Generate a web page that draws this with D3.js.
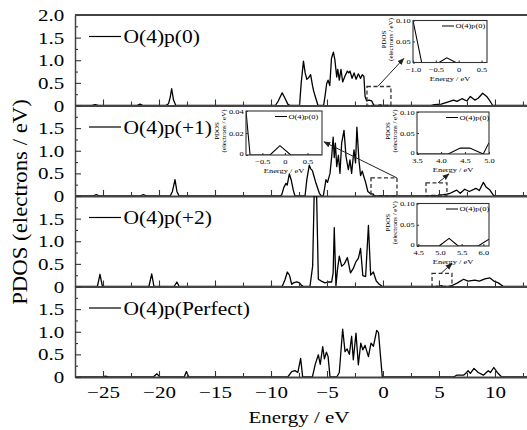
<!DOCTYPE html>
<html>
<head>
<meta charset="utf-8">
<script src="https://cdn.jsdelivr.net/npm/d3@7"></script>
<style>
body { margin: 0; background: #fff; }
svg { display: block; font-family: "Liberation Serif", "Times New Roman", serif; }
</style>
</head>
<body>
<svg id="chart" width="527" height="430"></svg>
<script>
"use strict";

// axis ticks
var energyTicks = [-25, -20, -15, -10, -5, 0, 5, 10];
var energyMinorTicks = [-22.5, -17.5, -12.5, -7.5, -2.5, 2.5, 7.5, 12.5];
var pdosTicks = [0, 0.5, 1.0, 1.5];
var pdosTicksTop = [0, 0.5, 1.0, 1.5, 2.0];
var pdosMinorTicks = [0.25, 0.75, 1.25, 1.75];

var panelLabels = ["O(4)p(0)", "O(4)p(+1)", "O(4)p(+2)", "O(4)p(Perfect)"];

// PDOS curves, [energy (eV), pdos (electrons / eV)]
var pdosCharge0 = [
    [-27.5,0],[-26.0,0],[-25.7,0.02],[-25.4,0],[-22.0,0],[-21.7,0.03],[-21.4,0],[-19.4,0],[-19.15,0.04],[-19.0,0.18],[-18.87,0.37],[-18.7,0.12],[-18.5,0],
    [-9.6,0],[-9.35,0.1],[-9.0,0.28],[-8.75,0.16],[-8.5,0.03],[-8.3,0],
    [-7.45,0],[-7.3,0.5],[-7.1,0.98],[-6.95,0.72],[-6.8,0.58],[-6.62,0.62],[-6.46,0.68],[-6.3,0.45],[-6.2,0.33],[-6.0,0.16],[-5.8,0],
    [-5.3,0],[-5.15,0.25],[-5.03,0.48],[-4.9,0.56],[-4.75,0.44],[-4.6,1.04],[-4.43,1.18],[-4.3,1.02],[-4.13,0.63],[-4.04,0.8],[-3.9,0.56],[-3.75,0.8],[-3.6,0.52],[-3.39,0.65],[-3.18,0.76],[-3.05,0.72],[-2.94,0.76],[-2.76,0.6],[-2.58,0.72],[-2.4,0.58],[-2.2,0.7],[-2.0,0.6],[-1.85,0.68],[-1.7,0.64],[-1.6,0.2],[-1.45,0.1],[-1.25,0.12],[-1.0,0.1],[-0.81,0],[-0.43,0],[-0.26,0.011],[-0.06,0],
    [4.3,0],[4.6,0.02],[5.2,0.03],[5.7,0.07],[6.3,0.12],[6.6,0.09],[7.05,0.15],[7.5,0.1],[7.8,0.2],[8.2,0.12],[8.5,0.16],[8.9,0.27],[9.26,0.2],[9.55,0.1],[9.8,0],[12.86,0]
];
var pdosCharge1 = [
    [-27.5,0],[-25.9,0],[-25.6,0.03],[-25.3,0],[-21.7,0],[-21.4,0.03],[-21.1,0],[-19.0,0],[-18.8,0.1],[-18.57,0.36],[-18.4,0.1],[-18.2,0],
    [-9.3,0],[-9.05,0.02],[-8.85,0.19],[-8.66,0.28],[-8.55,0.24],[-8.36,0.49],[-8.2,0.36],[-8.0,0.12],[-7.86,0],
    [-6.96,0],[-6.8,0.36],[-6.58,0.68],[-6.45,0.6],[-6.3,0.56],[-6.2,0.47],[-5.98,0.28],[-5.68,0.06],[-5.5,0],
    [-5.33,0],[-5.09,0.36],[-4.95,0.3],[-4.73,0.5],[-4.58,0.87],[-4.45,1.3],[-4.35,0.85],[-4.25,1.17],[-4.13,0.65],[-3.98,0.9],[-3.84,0.5],[-3.69,1.17],[-3.48,1.45],[-3.3,0.87],[-3.09,0.58],[-2.95,0.8],[-2.8,0.5],[-2.59,1.02],[-2.45,0.73],[-2.33,1.52],[-2.15,0.8],[-2.0,0.45],[-1.85,0.55],[-1.7,0.42],[-1.55,0.3],[-1.35,0.1],[-1.1,0.05],[-0.86,0.04],[-0.77,0],[-0.33,0],[-0.11,0.0085],[0.13,0],
    [4.15,0],[4.4,0.014],[4.6,0.014],[4.88,0],[5.0,0.027],[5.4,0.03],[5.7,0.04],[6.0,0.06],[6.58,0.13],[6.9,0.06],[7.3,0.15],[7.7,0.1],[8.3,0.17],[8.6,0.12],[8.96,0.3],[9.2,0.2],[9.55,0.13],[9.85,0.02],[10.0,0],[12.86,0]
];
var pdosCharge2 = [
    [-27.5,0],[-25.5,0],[-25.27,0.27],[-25.05,0],[-20.9,0],[-20.65,0.28],[-20.45,0],[-18.65,0],[-18.4,0.1],[-18.2,0],
    [-9.0,0],[-8.75,0.15],[-8.54,0.32],[-8.35,0.25],[-8.15,0.05],[-8.0,0.08],[-7.7,0.1],[-7.45,0.08],[-7.3,0.03],[-7.1,0],
    [-6.52,0],[-6.28,0.45],[-6.12,2.3],[-5.95,2.3],[-5.77,0.16],[-5.5,0.12],[-5.18,0.08],[-4.88,0.1],[-4.58,0.1],[-4.45,0.3],[-4.35,1.3],[-4.2,0.02],[-4.05,0.4],[-3.9,0.67],[-3.69,0.45],[-3.45,0.5],[-3.18,0.64],[-2.9,0.3],[-2.65,0.4],[-2.41,0.55],[-2.2,0.62],[-2.0,0.84],[-1.8,0.24],[-1.55,0.22],[-1.3,1.35],[-1.1,0.25],[-0.86,0.32],[-0.6,0.12],[-0.33,0.05],[-0.05,0],
    [4.98,0],[5.21,0.018],[5.42,0],[5.88,0],[6.13,0.017],[6.58,0.07],[7.2,0.16],[7.6,0.12],[8.2,0.14],[8.6,0.12],[9.1,0.17],[9.55,0.19],[9.9,0.12],[10.3,0.08],[10.75,0],[12.86,0]
];
var pdosPerfect = [
    [-27.5,0],[-25.0,0],[-24.8,0.02],[-24.5,0],[-20.5,0],[-20.2,0.07],[-19.9,0],[-17.75,0],[-17.55,0.12],[-17.35,0],
    [-8.5,0],[-8.15,0.12],[-7.86,0.14],[-7.6,0.1],[-7.35,0.41],[-7.17,0],
    [-6.3,0],[-6.05,0.28],[-5.77,0.49],[-5.6,0.28],[-5.38,0.67],[-5.23,0.4],[-5.05,0.55],[-4.9,0.45],[-4.73,0],
    [-4.13,0],[-3.9,0.1],[-3.6,1.06],[-3.39,0.56],[-3.2,0.62],[-3.0,0.5],[-2.8,0.9],[-2.65,0.38],[-2.41,0.97],[-2.2,0.27],[-1.98,0.75],[-1.8,0.6],[-1.6,0.7],[-1.3,0.45],[-1.07,0.75],[-0.85,0.68],[-0.56,1.03],[-0.4,0.98],[-0.06,0],
    [6.3,0],[6.58,0.04],[7.2,0.04],[7.47,0.1],[7.6,0.14],[7.8,0.08],[8.13,0.19],[8.5,0.1],[8.96,0.04],[9.4,0.14],[9.6,0.1],[9.9,0.21],[10.2,0.1],[10.6,0],[12.86,0]
];

// zoomed insets
var insetLabel = "O(4)p(0)";
var inset0Data = [[-1.0,0.1],[-0.81,0],[-0.43,0],[-0.26,0.011],[-0.06,0],[0.62,0]];
var inset0EnergyTicks = [-1.0, -0.5, 0, 0.5];
var inset0PdosTicks = [0, 0.05, 0.10];
var inset1Data = [[-0.86,0.04],[-0.77,0],[-0.33,0],[-0.11,0.0085],[0.13,0],[0.82,0]];
var inset1EnergyTicks = [-0.5, 0, 0.5];
var inset1PdosTicks = [0, 0.02, 0.04];
var inset2Data = [[3.5,0],[4.15,0],[4.4,0.014],[4.6,0.014],[4.88,0],[5.0,0.027]];
var inset2EnergyTicks = [3.5, 4.0, 4.5, 5.0];
var inset2PdosTicks = [0, 0.05, 0.10];
var inset3Data = [[4.47,0],[4.98,0],[5.21,0.018],[5.42,0],[5.88,0],[6.13,0.016]];
var inset3EnergyTicks = [4.5, 5.0, 5.5, 6.0];
var inset3PdosTicks = [0, 0.05, 0.10];

var svg = d3.select("#chart");
var FONT = 17.5, STRETCH = 1.2;
var left = 75, right = 527, top0 = 15, panelH = 90.5;

var x = d3.scaleLinear().domain([-27.5, 12.86]).range([left, right]);
var series = [pdosCharge0, pdosCharge1, pdosCharge2, pdosPerfect];
var yScales = [];

var defs = svg.append("defs");
defs.append("marker")
    .attr("id", "arrow")
    .attr("viewBox", "0 0 10 10")
    .attr("refX", 9).attr("refY", 5)
    .attr("markerWidth", 7).attr("markerHeight", 7)
    .attr("orient", "auto")
    .append("path").attr("d", "M0,1L10,5L0,9Z").attr("fill", "#222");

function fmtTick(spec) {
    return function(d) { return d === 0 ? "0" : d3.format(spec)(d); };
}

// restyle axis texts: serif and slightly wide
function styleAxis(g, size, domainW) {
    g.attr("font-family", null).attr("font-size", null);
    g.selectAll(".domain").attr("stroke", "#444").attr("stroke-width", domainW);
    g.selectAll(".tick line").attr("stroke", "#333").attr("stroke-width", 1.1);
    g.selectAll(".tick text").attr("fill", "#000").attr("font-size", size)
        .attr("transform", "scale(" + STRETCH + ",1)");
}

series.forEach(function(data, i) {
    var top = top0 + i * panelH, bottom = top + panelH;
    var y = d3.scaleLinear().domain([0, 2]).range([bottom, top]);
    yScales.push(y);

    defs.append("clipPath").attr("id", "clip" + i)
        .append("rect").attr("x", left).attr("y", top).attr("width", right - left).attr("height", panelH);

    var g = svg.append("g");

    g.append("path").datum(data)
        .attr("clip-path", "url(#clip" + i + ")")
        .attr("fill", "none").attr("stroke", "#000").attr("stroke-width", 1.3)
        .attr("stroke-linejoin", "round")
        .attr("d", d3.line().x(function(d) { return x(d[0]); }).y(function(d) { return y(d[1]); }));

    // minor ticks
    g.append("g").attr("transform", "translate(0," + bottom + ")")
        .call(d3.axisBottom(x).tickValues(energyMinorTicks).tickSizeInner(-4).tickSizeOuter(0).tickFormat(function() { return ""; }))
        .call(function(a) { a.select(".domain").remove(); a.selectAll(".tick line").attr("stroke", "#333").attr("stroke-width", 1.1); });
    g.append("g").attr("transform", "translate(" + left + ",0)")
        .call(d3.axisLeft(y).tickValues(pdosMinorTicks).tickSizeInner(-3).tickSizeOuter(0).tickFormat(function() { return ""; }))
        .call(function(a) { a.select(".domain").remove(); a.selectAll(".tick line").attr("stroke", "#333").attr("stroke-width", 1.1); });

    var xAxis = d3.axisBottom(x).tickValues(energyTicks).tickSizeInner(-6).tickSizeOuter(0).tickPadding(9)
        .tickFormat(i === 3 ? d3.format("d") : function() { return ""; });
    g.append("g").attr("transform", "translate(0," + bottom + ")").call(xAxis)
        .call(function(a) { styleAxis(a, FONT, 2); });

    var yAxis = d3.axisLeft(y).tickValues(i === 0 ? pdosTicksTop : pdosTicks)
        .tickSizeInner(-6).tickSizeOuter(0).tickPadding(9).tickFormat(fmtTick(".1f"));
    g.append("g").attr("transform", "translate(" + left + ",0)").call(yAxis)
        .call(function(a) { styleAxis(a, FONT, 1.5); });

    // legend
    g.append("line").attr("x1", 89).attr("x2", 121).attr("y1", top + 21.5).attr("y2", top + 21.5)
        .attr("stroke", "#000").attr("stroke-width", 1.2);
    g.append("text").attr("transform", "translate(123.5," + (top + 21.5) + ") scale(1.13,1)")
        .attr("dy", "0.35em").attr("font-size", 19).text(panelLabels[i]);
});

// top frame line
svg.append("line").attr("x1", left).attr("x2", right).attr("y1", top0).attr("y2", top0)
    .attr("stroke", "#444").attr("stroke-width", 2);

// axis titles
svg.append("text").attr("transform", "translate(299,423) scale(" + STRETCH + ",1)")
    .attr("text-anchor", "middle").attr("font-size", FONT).text("Energy / eV");
svg.append("text").attr("transform", "translate(20,202) rotate(-90) scale(1.14,1)")
    .attr("text-anchor", "middle").attr("dy", "0.35em").attr("font-size", 20).text("PDOS (electrons / eV)");

// inset layout: box in pixels, zoomed window in data units, arrow from window top
var insets = [
    {panel: 0, data: inset0Data, xTicks: inset0EnergyTicks, yTicks: inset0PdosTicks, xDomain: [-1.0, 0.62], yDomain: [0, 0.1],
     box: {x: 413, y: 20.5, w: 74, h: 42}, win: [-1.43, 0.71, 0.42], arrow: [0.45, 26, -28]},
    {panel: 1, data: inset1Data, xTicks: inset1EnergyTicks, yTicks: inset1PdosTicks, xDomain: [-0.86, 0.82], yDomain: [0, 0.04],
     box: {x: 246, y: 111, w: 76, h: 44}, win: [-1.07, 1.25, 0.4], arrow: [1.0, -73, -36]},
    {panel: 1, data: inset2Data, xTicks: inset2EnergyTicks, yTicks: inset2PdosTicks, xDomain: [3.5, 5.0], yDomain: [0, 0.1],
     box: {x: 417, y: 112, w: 72, h: 42}, win: [3.84, 5.71, 0.29], arrow: [0.57, 11, -9]},
    {panel: 2, data: inset3Data, xTicks: inset3EnergyTicks, yTicks: inset3PdosTicks, xDomain: [4.47, 6.13], yDomain: [0, 0.1],
     box: {x: 417, y: 203.5, w: 72, h: 42.5}, win: [4.38, 6.16, 0.29], arrow: [0.45, 11, -10]}
];

insets.forEach(function(c, k) {
    var y = yScales[c.panel];
    var b = c.box;
    var g = svg.append("g");

    // dashed window on the main panel
    var wx0 = x(c.win[0]), wx1 = x(c.win[1]), wy = y(c.win[2]);
    g.append("rect").attr("x", wx0).attr("y", wy).attr("width", wx1 - wx0).attr("height", y(0) - wy)
        .attr("fill", "none").attr("stroke", "#333").attr("stroke-width", 1.3).attr("stroke-dasharray", "4,2.5");
    var ax = wx0 + c.arrow[0] * (wx1 - wx0);
    g.append("line").attr("x1", ax).attr("y1", wy).attr("x2", ax + c.arrow[1]).attr("y2", wy + c.arrow[2])
        .attr("stroke", "#222").attr("stroke-width", 1).attr("marker-end", "url(#arrow)");

    var ix = d3.scaleLinear().domain(c.xDomain).range([b.x, b.x + b.w]);
    var iy = d3.scaleLinear().domain(c.yDomain).range([b.y + b.h, b.y]);

    g.append("rect").attr("x", b.x).attr("y", b.y).attr("width", b.w).attr("height", b.h)
        .attr("fill", "#fff").attr("stroke", "none");

    defs.append("clipPath").attr("id", "iclip" + k)
        .append("rect").attr("x", b.x).attr("y", b.y).attr("width", b.w).attr("height", b.h);
    g.append("path").datum(c.data).attr("clip-path", "url(#iclip" + k + ")")
        .attr("fill", "none").attr("stroke", "#000").attr("stroke-width", 1.1)
        .attr("d", d3.line().x(function(d) { return ix(d[0]); }).y(function(d) { return iy(d[1]); }));

    g.append("g").attr("transform", "translate(0," + (b.y + b.h) + ")")
        .call(d3.axisBottom(ix).tickValues(c.xTicks).tickSizeInner(-2).tickSizeOuter(0).tickPadding(4.5).tickFormat(fmtTick(".1f")))
        .call(function(a) { styleAxis(a, 7, 0); a.select(".domain").remove(); });
    g.append("g").attr("transform", "translate(" + b.x + ",0)")
        .call(d3.axisLeft(iy).tickValues(c.yTicks).tickSizeInner(-2).tickSizeOuter(0).tickPadding(2).tickFormat(fmtTick(".2f")))
        .call(function(a) {
            styleAxis(a, 7, 0); a.select(".domain").remove();
            // lift the zero label a little off the x tick labels
            a.selectAll(".tick text").filter(function(d) { return d === 0; }).attr("dy", "0.1em");
        });

    g.append("rect").attr("x", b.x).attr("y", b.y).attr("width", b.w).attr("height", b.h)
        .attr("fill", "none").attr("stroke", "#333").attr("stroke-width", 1.1);

    // inset legend
    g.append("line").attr("x1", b.x + 29).attr("x2", b.x + 41).attr("y1", b.y + 5.5).attr("y2", b.y + 5.5)
        .attr("stroke", "#000").attr("stroke-width", 1);
    g.append("text").attr("transform", "translate(" + (b.x + 42.5) + "," + (b.y + 5.5) + ") scale(" + STRETCH + ",1)")
        .attr("dy", "0.35em").attr("font-size", 7).text(insetLabel);

    // inset axis titles
    g.append("text").attr("transform", "translate(" + (b.x + b.w / 2) + "," + (b.y + b.h + 18) + ") scale(" + STRETCH + ",1)")
        .attr("text-anchor", "middle").attr("font-size", 7).text("Energy / eV");
    var cy = b.y + b.h / 2 - 2;
    g.append("text").attr("transform", "translate(" + (b.x - 29) + "," + cy + ") rotate(-90) scale(1.15,1)")
        .attr("text-anchor", "middle").attr("dy", "0.35em").attr("font-size", 6).text("PDOS");
    g.append("text").attr("transform", "translate(" + (b.x - 22) + "," + cy + ") rotate(-90) scale(1.15,1)")
        .attr("text-anchor", "middle").attr("dy", "0.35em").attr("font-size", 6).text("(electrons / eV)");
});
</script>
</body>
</html>
